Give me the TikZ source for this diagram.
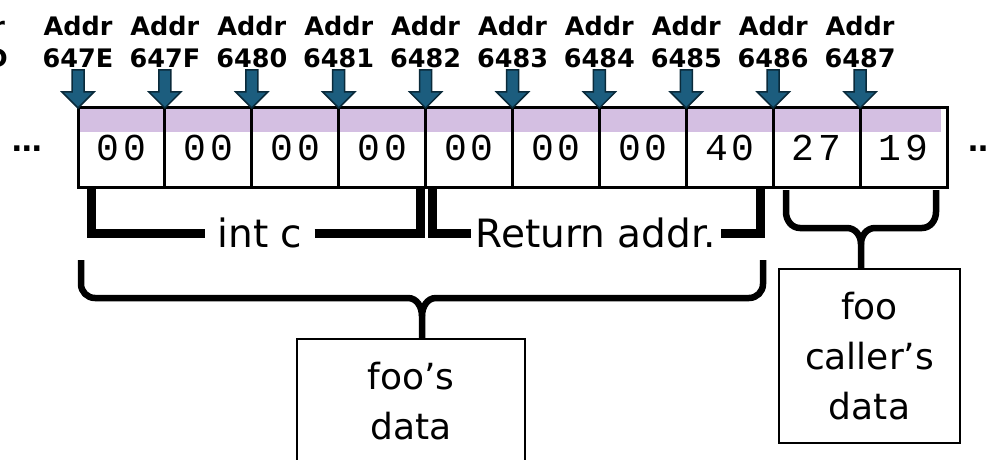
\documentclass[tikz,border=0pt]{standalone}
\usepackage{fontspec}
\setmainfont{DejaVu Sans}
\newfontfamily\monof[LetterSpace=10]{Liberation Mono}
\definecolor{band}{HTML}{D4BFE2}
\definecolor{arrfill}{HTML}{1C5D7E}
\definecolor{arrline}{HTML}{0A2A3A}
\tikzset{
  addr/.style={font=\bfseries\fontsize{25.5}{32}\selectfont, align=center, inner sep=0pt},
  cell/.style={draw, line width=3pt, minimum width=86.9pt, minimum height=79pt, inner sep=0pt, outer sep=0pt, font=\monof\fontsize{38}{38}\selectfont},
  arr/.style={fill=arrfill, draw=arrline, line width=1.5pt, line join=miter},
  brk/.style={line width=9pt, line join=miter},
  brace/.style={line width=6.5pt, line cap=butt},
  lbl/.style={font=\fontsize{39}{42}\selectfont, inner sep=0pt},
  databox/.style={draw, line width=1.5pt, align=center, inner sep=0pt, font=\fontsize{36}{50}\selectfont},
  dots/.style={font=\bfseries\fontsize{30}{30}\selectfont, inner sep=0pt}
}
\begin{document}
\begin{tikzpicture}[x=1pt, y=-1pt]
\useasboundingbox (0,0) rectangle (989,460);
\clip (0,0) rectangle (989,460);
% purple band
\fill[band] (78,108) rectangle (941,132);
% cells
\foreach \i/\v in {0/00,1/00,2/00,3/00,4/00,5/00,6/00,7/40,8/27,9/19} {
  \node[cell] (c\i) at ({78+86.9*(\i+0.5)},147.5) {\v};
}
% arrows and address labels
\foreach \i/\lab in {0/647E,1/647F,2/6480,3/6481,4/6482,5/6483,6/6484,7/6485,8/6486,9/6487} {
  \pgfmathsetmacro\xx{78+86.9*\i}
  \coordinate (t\i) at (\xx,108);
  \draw[arr] ([xshift=-6pt,yshift=38pt]t\i) -- ([xshift=6pt,yshift=38pt]t\i) -- ([xshift=6pt,yshift=16pt]t\i) -- ([xshift=16pt,yshift=16pt]t\i) -- (t\i) -- ([xshift=-16pt,yshift=16pt]t\i) -- ([xshift=-6pt,yshift=16pt]t\i) -- cycle;
  \node[addr] (l\i) at (\xx,41.5) {Addr\\\lab};
}
\node[addr, anchor=east] (lm) at (8,41.5) {Addr\\647D};
% ellipses
\node[dots] (dl) at (27,149) {…};
\node[dots, anchor=west] (dr) at (968,149) {…};
% int c bracket
\node[lbl, inner xsep=12pt] (intc) at (260,233) {int c};
\coordinate (b1) at (91.5,187);
\coordinate (b2) at (420,187);
\draw[brk] (b1) |- (intc.west);
\draw[brk] (intc.east) -| (b2);
% return addr bracket
\node[lbl, inner xsep=5pt] (ret) at (596,233) {Return addr.};
\coordinate (b3) at (432,187);
\coordinate (b4) at (760,187);
\draw[brk] (b3) |- (ret.west);
\draw[brk] (ret.east) -| (b4);
% boxes
\node[databox, minimum width=228pt, minimum height=124pt] (foo) at (411,401) {foo’s\\data};
\node[databox, minimum width=181pt, minimum height=174pt] (caller) at (869.5,356) {foo\\caller’s\\data};
% brace for foo's data
\coordinate (p1) at (81,260);
\coordinate (p2) at (763,260);
\draw[brace] (p1) -- (81,284) to[out=-90,in=180] (95,298) -- (408,298) to[out=0,in=90] (422,316) -- (foo.north -| 422,0);
\draw[brace] (422,316) to[out=90,in=180] (436,298) -- (749,298) to[out=0,in=-90] (763,284) -- (p2);
% brace for caller's data
\coordinate (q1) at (786,190);
\coordinate (q2) at (936,190);
\draw[brace] (q1) -- (786,212) to[out=-90,in=180] (800,228) -- (847,228) to[out=0,in=90] (861,244) -- (caller.north -| 861,0);
\draw[brace] (861,244) to[out=90,in=180] (875,228) -- (922,228) to[out=0,in=-90] (936,212) -- (q2);
\end{tikzpicture}
\end{document}
